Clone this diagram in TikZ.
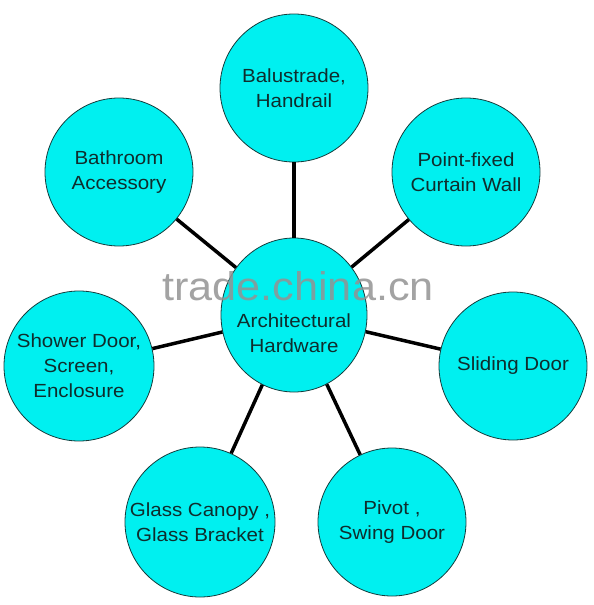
\documentclass[tikz,border=0pt]{standalone}
\usepackage{fontspec}
\setmainfont{Liberation Sans}[FakeStretch=1.08]
\usetikzlibrary{shapes.geometric}
\definecolor{bubblefill}{RGB}{0,240,240}
\definecolor{bubbleline}{RGB}{20,60,60}
\definecolor{bubbletext}{RGB}{15,45,45}
\begin{document}
\begin{tikzpicture}[x=1pt,y=-1pt,
  bubble/.style={circle,draw=bubbleline,line width=0.8pt,fill=bubblefill,
    minimum size=#1,inner sep=0pt,align=center,text=bubbletext,
    font=\fontsize{19}{25}\selectfont},
  bubble/.default=148pt,
  hub/.style={ellipse,draw=bubbleline,line width=0.8pt,fill=bubblefill,
    minimum width=146pt,minimum height=154pt,inner sep=0pt},
  label/.style={align=center,text=bubbletext,inner sep=0pt,
    font=\fontsize{19}{25}\selectfont},
  spoke/.style={line width=3.5pt,black}]
\useasboundingbox (0,0) rectangle (594,605);
\fill[white] (0,0) rectangle (594,605);
\node[hub] (c) at (294,315) {};
\node[label] (ct) at (294,333) {Architectural\\Hardware};
\node[bubble] (t) at (294,88) {Balustrade,\\Handrail};
\node[bubble] (tl) at (119,172) {Bathroom\\Accessory};
\node[bubble] (tr) at (466,172) {Point-fixed\\Curtain Wall};
\node[bubble=150pt] (l) at (79,366) {Shower Door,\\Screen,\\Enclosure};
\node[bubble] (r) at (513,366) {Sliding Door};
\node[bubble=150pt] (bl) at (200,522) {Glass Canopy ,\\Glass Bracket};
\node[bubble] (br) at (392,522) {Pivot ,\\Swing Door};
\foreach \n in {t,tl,tr,l,r,bl,br} \draw[spoke] (c) -- (\n);
\node[text=gray!85,opacity=0.85,inner sep=0pt,font=\fontsize{40}{40}\selectfont] (wm) at (298,286) {trade.china.cn};
\end{tikzpicture}
\end{document}
